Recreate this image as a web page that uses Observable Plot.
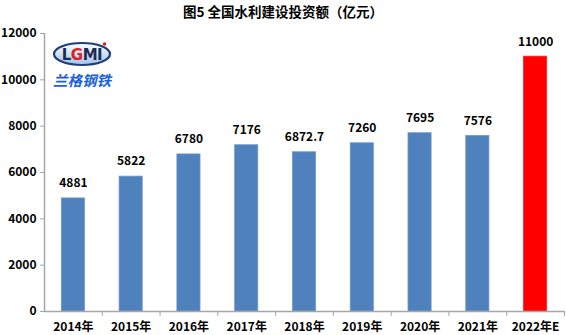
<!DOCTYPE html>
<html>
<head>
<meta charset="utf-8">
<script src="https://cdn.jsdelivr.net/npm/d3@7"></script>
<script src="https://cdn.jsdelivr.net/npm/@observablehq/plot@0.6"></script>
<style>
  body { margin: 0; background: #fff; }
  #wrap { position: relative; width: 566px; height: 335px; font-family: "Noto Sans CJK SC", "Noto Sans", sans-serif; }
  #title { position: absolute; left: 0; top: 1px; width: 566px; text-align: center; font-size: 13.5px; font-weight: bold; color: #000; }
  #logo { position: absolute; left: 48px; top: 40px; }
</style>
</head>
<body>
<div id="wrap">
  <div id="chart"></div>
  <div id="title">图5 全国水利建设投资额（亿元）</div>
  <svg id="logo" width="72" height="52" viewBox="0 0 72 52">
    <defs>
      <linearGradient id="lg" x1="0" y1="0" x2="0" y2="1">
        <stop offset="0" stop-color="#ffffff"/>
        <stop offset="1" stop-color="#9fc3ea"/>
      </linearGradient>
    </defs>
    <ellipse cx="34" cy="14" rx="28" ry="11" fill="url(#lg)" stroke="#1f3f7a" stroke-width="2.2"/>
    <text x="34" y="19.5" text-anchor="middle" font-family="DejaVu Sans" font-weight="bold" font-size="15" fill="#1d2a55" letter-spacing="-0.5">L<tspan fill="#e02020">G</tspan>MI</text>
    <circle cx="56.5" cy="4" r="1.8" fill="#e02020"/>
    <text x="34" y="46" text-anchor="middle" font-family="Noto Sans CJK SC" font-weight="bold" font-style="italic" font-size="14.5" fill="#1a62d6">兰格钢铁</text>
  </svg>
</div>
<script>
const categories = ["2014年","2015年","2016年","2017年","2018年","2019年","2020年","2021年","2022年E"];
const values = [4881, 5822, 6780, 7176, 6872.7, 7260, 7695, 7576, 11000];
const valueLabels = ["4881","5822","6780","7176","6872.7","7260","7695","7576","11000"];
const barColors = ["#4f81bd","#4f81bd","#4f81bd","#4f81bd","#4f81bd","#4f81bd","#4f81bd","#4f81bd","#ff0000"];
const yTicks = [0, 2000, 4000, 6000, 8000, 10000, 12000];

const data = categories.map((c, i) => ({i, c, v: values[i], label: valueLabels[i], color: barColors[i]}));
const centers = data.map(d => d.i + 0.5);
const boundaries = data.map(d => d.i + 1);

const axisColor = "#a6a6a6";

const chart = Plot.plot({
  width: 566,
  height: 335,
  marginTop: 33,
  marginBottom: 24,
  marginLeft: 44,
  marginRight: 2,
  style: {fontFamily: "'Noto Sans CJK SC', 'Noto Sans', sans-serif", fontSize: "12px", fontWeight: "bold", color: "#000", background: "#fff"},
  x: {type: "linear", domain: [0, categories.length], axis: null},
  y: {domain: [0, 12000], axis: null},
  marks: [
    Plot.rectY(data, {x1: d => d.i + 0.3, x2: d => d.i + 0.7, y1: 0, y2: "v", fill: "color", stroke: d => d.i < 8 ? "#6a96cc" : "#ff2020", strokeWidth: 0.8}),
    Plot.text(data, {x: d => d.i + 0.5, y: "v", text: "label", dy: -15, fill: "#000", fontWeight: "bold", fontSize: 12}),
    Plot.axisY({ticks: yTicks, label: null, tickSize: 4, tickPadding: 4, tickFormat: d => String(d), stroke: axisColor, fill: "#000", fontWeight: "bold", fontSize: 12}),
    Plot.axisX({ticks: boundaries, label: null, tickSize: 5, tickFormat: () => "", stroke: axisColor}),
    Plot.axisX({ticks: centers, label: null, tickSize: 0, tickPadding: 11, tickFormat: d => categories[Math.round(d - 0.5)], fill: "#000", fontWeight: "bold", fontSize: 12}),
    Plot.ruleX([0], {stroke: axisColor, strokeWidth: 1.5}),
    Plot.ruleY([0], {stroke: axisColor, strokeWidth: 1.5})
  ]
});
document.getElementById("chart").appendChild(chart);
</script>
</body>
</html>
